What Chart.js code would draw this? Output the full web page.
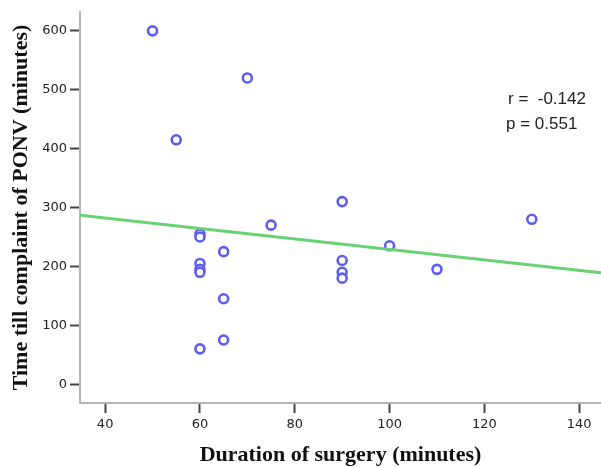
<!DOCTYPE html>
<html>
<head>
<meta charset="utf-8">
<script src="https://cdn.jsdelivr.net/npm/chart.js@4/dist/chart.umd.min.js"></script>
<style>
  html, body { margin: 0; padding: 0; background: #fff; }
  #wrap { width: 601px; height: 467px; }
</style>
</head>
<body>
<div id="wrap"><canvas id="c"></canvas></div>
<script>
// Duration of surgery (x) vs time till complaint of PONV (y)
const duration = [50, 70, 55, 75, 60, 60, 65, 60, 60, 60, 65, 65, 60, 90, 90, 90, 90, 100, 110, 130];
const timeToPonv = [600, 520, 415, 270, 255, 250, 225, 205, 195, 190, 145, 75, 60, 310, 210, 190, 180, 235, 195, 280];

// fit line endpoints, read at the axis edges
const fitX = [34.7, 144.6];
const fitY = [287, 189];

const xTicks = [40, 60, 80, 100, 120, 140];
const yTicks = [0, 100, 200, 300, 400, 500, 600];

const statLines = ['r =  -0.142', 'p = 0.551'];

const keepTicks = list => scale => {
    scale.ticks = list.map(v => ({ value: v }));
};

const statsText = {
    id: 'statsText',
    afterDraw(chart) {
        const ctx = chart.ctx;
        ctx.save();
        ctx.fillStyle = '#222';
        ctx.font = '17px "Liberation Sans", Arial, sans-serif';
        ctx.textBaseline = 'middle';
        ctx.fillText(statLines[0], 508, 99);
        ctx.fillText(statLines[1], 506, 124);
        ctx.restore();
    }
};

const tickFont = { family: '"DejaVu Sans", sans-serif', size: 13 };
const titleFont = { family: '"Liberation Serif", "Times New Roman", serif', size: 22, weight: 'bold' };

new Chart(document.getElementById('c'), {
    type: 'scatter',
    data: {
        datasets: [
            {
                label: 'fit',
                type: 'line',
                data: fitX.map((x, i) => ({ x: x, y: fitY[i] })),
                borderColor: '#6ad273',
                borderWidth: 3,
                pointRadius: 0,
                fill: false,
            },
            {
                label: 'patients',
                data: duration.map((x, i) => ({ x: x, y: timeToPonv[i] })),
                pointRadius: 4.5,
                pointBorderWidth: 2.6,
                borderColor: '#5b5cf2',
                backgroundColor: '#ffffff',
            },
        ],
    },
    options: {
        responsive: true,
        maintainAspectRatio: false,
        animation: false,
        layout: { autoPadding: false, padding: { top: 12, right: 0, left: 0, bottom: 0 } },
        plugins: {
            legend: { display: false },
            tooltip: { enabled: false },
        },
        scales: {
            x: {
                type: 'linear',
                min: 34.7,
                max: 144.6,
                afterBuildTicks: keepTicks(xTicks),
                afterFit: s => { s.height = 64; s.paddingRight = 0; s.paddingLeft = 0; },
                grid: { drawOnChartArea: false, drawTicks: true, tickLength: 10, tickColor: '#444', tickWidth: 2 },
                border: { display: true, color: '#b4b4b4', width: 2 },
                ticks: { color: '#222', font: tickFont, padding: 4, maxRotation: 0 },
                title: { display: true, text: 'Duration of surgery (minutes)', color: '#111', font: titleFont, padding: { top: 4, bottom: -2 } },
            },
            y: {
                min: -32,
                max: 632,
                afterBuildTicks: keepTicks(yTicks),
                afterFit: s => { s.width = 80; s.paddingTop = 0; s.paddingBottom = 0; },
                grid: { drawOnChartArea: false, drawTicks: true, tickLength: 10, tickColor: '#444', tickWidth: 2 },
                border: { display: true, color: '#b4b4b4', width: 2 },
                ticks: { color: '#222', font: tickFont, padding: 3 },
                title: { display: true, text: 'Time till complaint of PONV (minutes)', color: '#111', font: titleFont, padding: { top: 8, bottom: 4 } },
            },
        },
    },
    plugins: [statsText],
});
</script>
</body>
</html>
